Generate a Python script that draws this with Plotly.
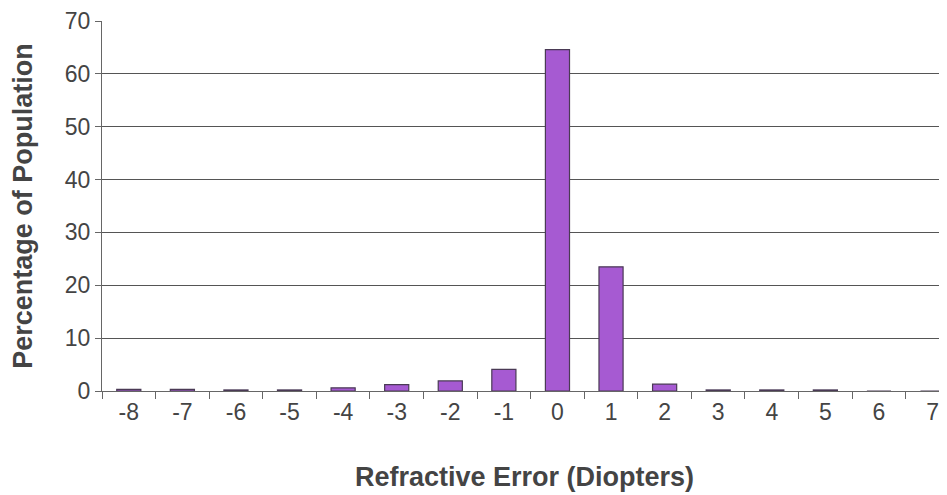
import plotly.graph_objects as go

categories = ["-8", "-7", "-6", "-5", "-4", "-3", "-2", "-1", "0", "1", "2", "3", "4", "5", "6", "7", "8"]
percentages = [0.3, 0.3, 0.2, 0.2, 0.6, 1.2, 1.9, 4.1, 64.6, 23.5, 1.3, 0.2, 0.2, 0.2, 0.0, 0.0, 0.0]
y_ticks = [0, 10, 20, 30, 40, 50, 60, 70]

fig = go.Figure()
fig.add_trace(go.Bar(
    x=categories, y=percentages,
    width=0.45,
    marker=dict(color="#A65AD2", line=dict(color="#4a3a55", width=1.2)),
))

font = "Liberation Sans, Arial, sans-serif"
fig.update_layout(
    width=939, height=487,
    margin=dict(l=94, r=0, t=13, b=104),
    paper_bgcolor="white", plot_bgcolor="white",
    showlegend=False,
    font=dict(family=font, color="#444"),
    xaxis=dict(
        type="category",
        range=[-0.5, 15.27],
        automargin=False,
        tickson="boundaries",
        ticks="outside", ticklen=7, tickcolor="#666", tickwidth=1.2,
        showline=True, linecolor="#666", linewidth=1.2,
        showgrid=False,
        tickfont=dict(size=23, color="#444"),
        title=dict(text="<b>Refractive Error (Diopters)</b>", font=dict(size=27, color="#444"), standoff=43),
    ),
    yaxis=dict(
        range=[0, 70],
        automargin=False,
        tickvals=y_ticks,
        ticks="outside", ticklen=6, tickcolor="#666", tickwidth=1.2,
        showline=True, linecolor="#666", linewidth=1.2,
        showgrid=True, gridcolor="#555", gridwidth=1.2,
        zeroline=False,
        tickfont=dict(size=23, color="#444"),
        title=dict(text="<b>Percentage of Population</b>", font=dict(size=27, color="#444"), standoff=26),
    ),
)
fig.write_html("out.html")
